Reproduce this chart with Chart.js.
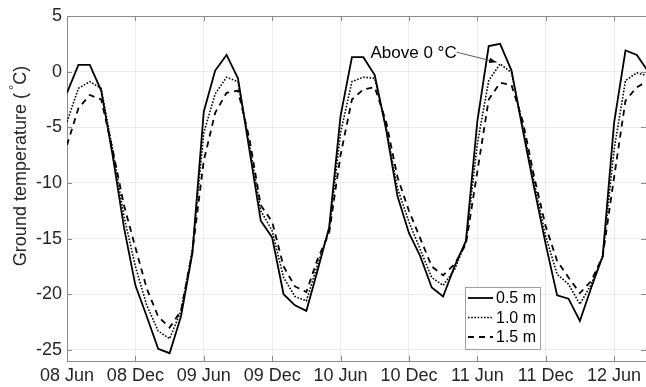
<!DOCTYPE html>
<html>
<head>
<meta charset="utf-8">
<script src="https://cdn.jsdelivr.net/npm/chart.js@4.4.0/dist/chart.umd.min.js"></script>
<style>
    html, body { margin: 0; padding: 0; background: #fff; }
    #chart { display: block; }
</style>
</head>
<body>
<canvas id="chart" width="646" height="387"></canvas>
<script>
// --- Datos ---
// meses desde junio 2008 (una muestra por mes)
const months = [0, 1, 2, 3, 4, 5, 6, 7, 8, 9, 10, 11, 12, 13, 14, 15, 16, 17, 18, 19, 20, 21, 22, 23, 24, 25,
    26, 27, 28, 29, 30, 31, 32, 33, 34, 35, 36, 37, 38, 39, 40, 41, 42, 43, 44, 45, 46, 47, 48, 49, 50, 51];

const depth05 = [-1.9, 0.6, 0.6, -1.7, -7.5, -14, -19.2, -22, -24.9, -25.3, -22, -16.3, -3.6, 0.1, 1.5, -0.6,
    -7, -13.4, -14.9, -20, -21, -21.5, -17.8, -14, -4, 1.3, 1.3, -0.3, -5.2, -11.2, -14.5, -16.6, -19.4, -20.2,
    -17.5, -15.2, -4.5, 2.3, 2.5, 0.1, -5.3, -10.5, -15.5, -20.1, -20.4, -22.4, -19.4, -16.6, -4.6, 1.9, 1.5, 0.0];

const depth10 = [-4.5, -1.5, -0.9, -1.5, -7, -13, -17.5, -21, -23.3, -24, -21.5, -16, -5.5, -2, -0.5, -0.9,
    -6.5, -12.5, -14.3, -18.5, -20.2, -20.6, -17.3, -14.3, -5.5, -0.9, -0.5, -0.6, -5, -10.5, -13.5, -16, -18.5,
    -19.2, -17.8, -15.3, -6.5, -0.8, 0.7, -0.1, -5, -10, -14.8, -18.2, -19.1, -20.9, -19.1, -16.6, -7, -0.8, -0.1, -0.4];

const depth15 = [-6.6, -3.3, -2.1, -2.5, -7, -12, -15.8, -19.5, -22, -23, -21.5, -16.2, -8, -3.7, -1.9, -1.7,
    -6, -12, -13.5, -17.5, -19.3, -19.8, -16.8, -14.5, -7.5, -2.5, -1.6, -1.4, -4.5, -9.5, -12.5, -15, -17.5,
    -18.3, -17.3, -15.5, -9, -2.5, -1.0, -1.2, -4.5, -9.5, -13.9, -17, -18.5, -19.9, -18.8, -16.6, -9.5, -2.6, -1.4, -0.8];

const seriesLabels = ['0.5 m', '1.0 m', '1.5 m'];

const xTickMonths = [0, 6, 12, 18, 24, 30, 36, 42, 48];
const xTickLabels = ['08 Jun', '08 Dec', '09 Jun', '09 Dec', '10 Jun', '10 Dec', '11 Jun', '11 Dec', '12 Jun'];
const yTicks = [-25, -20, -15, -10, -5, 0, 5];

const FONT = "'Liberation Sans', Arial, Helvetica, sans-serif";
const AXIS_COLOR = '#8c8c8c';
const TEXT_COLOR = '#262626';

// --- Plugins auxiliares ---

// caja con marcas de escala hacia adentro (estilo MATLAB)
const boxTicks = {
    id: 'boxTicks',
    afterDatasetsDraw(chart) {
        const { ctx, chartArea: a, scales: { x, y } } = chart;
        ctx.save();
        ctx.strokeStyle = AXIS_COLOR;
        ctx.lineWidth = 1;
        ctx.beginPath();
        ctx.moveTo(a.left, a.top + 0.5);
        ctx.lineTo(a.right, a.top + 0.5);
        xTickMonths.forEach(m => {
            const px = Math.round(x.getPixelForValue(m)) + 0.5;
            ctx.moveTo(px, a.bottom);
            ctx.lineTo(px, a.bottom - 5);
            ctx.moveTo(px, a.top);
            ctx.lineTo(px, a.top + 5);
        });
        yTicks.forEach(v => {
            const py = Math.round(y.getPixelForValue(v)) + 0.5;
            ctx.moveTo(a.left, py);
            ctx.lineTo(a.left + 5, py);
            ctx.moveTo(a.right, py);
            ctx.lineTo(a.right - 5, py);
        });
        ctx.stroke();
        ctx.restore();
    }
};

// leyenda dentro del área del gráfico
const boxLegend = {
    id: 'boxLegend',
    afterDraw(chart) {
        const { ctx } = chart;
        const left = 465, top = 287, w = 75, h = 62;
        ctx.save();
        ctx.fillStyle = '#fff';
        ctx.fillRect(left, top, w, h);
        ctx.strokeStyle = '#a0a0a0';
        ctx.lineWidth = 1;
        ctx.strokeRect(left + 0.5, top + 0.5, w, h);
        ctx.font = `16px ${FONT}`;
        ctx.textBaseline = 'middle';
        chart.data.datasets.forEach((ds, i) => {
            const cy = top + 11 + i * 19.5;
            ctx.strokeStyle = ds.borderColor;
            ctx.lineWidth = ds.borderWidth;
            ctx.setLineDash(ds.borderDash || []);
            ctx.beginPath();
            ctx.moveTo(left + 3, cy);
            ctx.lineTo(left + 28, cy);
            ctx.stroke();
            ctx.setLineDash([]);
            ctx.fillStyle = '#000';
            ctx.fillText(ds.label, left + 31, cy + 1);
        });
        ctx.restore();
    }
};

// anotación "Above 0 °C" y título del eje Y
const extras = {
    id: 'extras',
    afterDraw(chart) {
        const { ctx, scales: { x, y } } = chart;
        ctx.save();
        // flecha apuntando al máximo de 2011
        const tipX = x.getPixelForValue(37.7);
        const tipY = y.getPixelForValue(0.85);
        const sx = tipX - 40, sy = tipY - 10;
        ctx.strokeStyle = '#333';
        ctx.lineWidth = 0.8;
        ctx.beginPath();
        ctx.moveTo(sx, sy);
        ctx.lineTo(tipX, tipY);
        ctx.stroke();
        const ang = Math.atan2(tipY - sy, tipX - sx);
        ctx.fillStyle = '#000';
        ctx.beginPath();
        ctx.moveTo(tipX, tipY);
        ctx.lineTo(tipX - 8 * Math.cos(ang - 0.35), tipY - 8 * Math.sin(ang - 0.35));
        ctx.lineTo(tipX - 8 * Math.cos(ang + 0.35), tipY - 8 * Math.sin(ang + 0.35));
        ctx.closePath();
        ctx.fill();
        ctx.font = `17px ${FONT}`;
        ctx.textAlign = 'right';
        ctx.textBaseline = 'middle';
        ctx.fillText('Above 0 °C', sx, sy + 1);

        // título del eje Y con el grado como superíndice
        ctx.translate(20, 166);
        ctx.rotate(-Math.PI / 2);
        ctx.fillStyle = TEXT_COLOR;
        ctx.textAlign = 'left';
        ctx.textBaseline = 'middle';
        const part1 = 'Ground temperature (';
        const part2 = 'C)';
        ctx.font = `18px ${FONT}`;
        const w1 = ctx.measureText(part1).width;
        const w2 = ctx.measureText(part2).width;
        ctx.font = `13px ${FONT}`;
        const wd = ctx.measureText('°').width + 3;
        const total = w1 + wd + w2;
        let cx = -total / 2;
        ctx.font = `18px ${FONT}`;
        ctx.fillText(part1, cx, 1);
        cx += w1;
        ctx.font = `13px ${FONT}`;
        ctx.fillText('°', cx + 3, -6);
        cx += wd;
        ctx.font = `18px ${FONT}`;
        ctx.fillText(part2, cx, 1);
        ctx.restore();
    }
};

// --- Gráfico ---
const ctx = document.getElementById('chart').getContext('2d');
new Chart(ctx, {
    type: 'line',
    data: {
        labels: months,
        datasets: [
            {
                label: seriesLabels[0],
                data: depth05,
                borderColor: '#000',
                borderWidth: 1.8,
                pointRadius: 0,
                tension: 0,
                fill: false
            },
            {
                label: seriesLabels[1],
                data: depth10,
                borderColor: '#000',
                borderWidth: 1.6,
                borderDash: [1.6, 1.6],
                pointRadius: 0,
                tension: 0,
                fill: false
            },
            {
                label: seriesLabels[2],
                data: depth15,
                borderColor: '#000',
                borderWidth: 1.8,
                borderDash: [6, 5],
                pointRadius: 0,
                tension: 0,
                fill: false
            }
        ]
    },
    options: {
        responsive: false,
        animation: false,
        devicePixelRatio: 1,
        layout: { padding: { top: 16, right: 0, left: 0, bottom: 0 } },
        plugins: {
            legend: { display: false },
            tooltip: { enabled: false }
        },
        scales: {
            x: {
                type: 'linear',
                min: 0,
                max: 50.8,
                afterBuildTicks: scale => {
                    scale.ticks = xTickMonths.map(v => ({ value: v }));
                },
                afterFit: scale => { scale.height = 26; },
                ticks: {
                    autoSkip: false,
                    maxRotation: 0,
                    padding: 4,
                    color: TEXT_COLOR,
                    font: { family: FONT, size: 18 },
                    callback: v => xTickLabels[xTickMonths.indexOf(v)]
                },
                grid: { color: '#ebebeb', drawTicks: false },
                border: { color: AXIS_COLOR, width: 1 }
            },
            y: {
                type: 'linear',
                min: -26,
                max: 5,
                afterBuildTicks: scale => {
                    scale.ticks = yTicks.map(v => ({ value: v }));
                },
                afterFit: scale => { scale.width = 67; },
                ticks: {
                    padding: 5,
                    color: TEXT_COLOR,
                    font: { family: FONT, size: 18 }
                },
                grid: { color: '#ebebeb', drawTicks: false },
                border: { color: AXIS_COLOR, width: 1 }
            }
        }
    },
    plugins: [boxTicks, boxLegend, extras]
});
</script>
</body>
</html>
